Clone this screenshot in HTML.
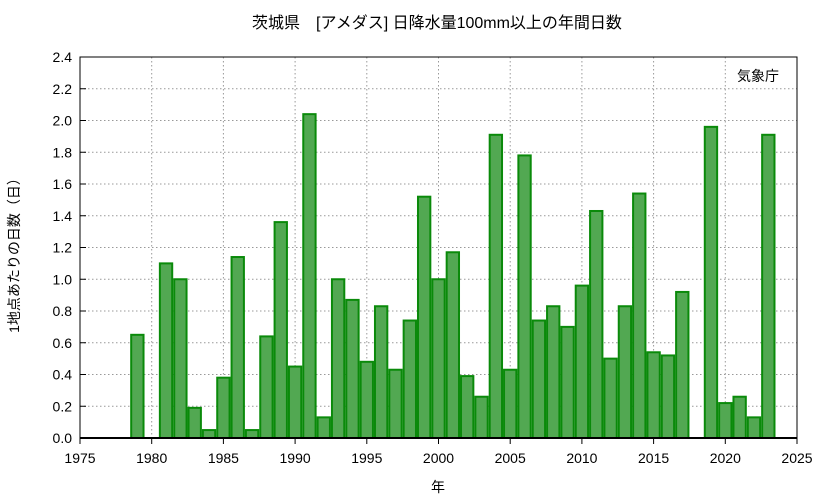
<!DOCTYPE html>
<html><head><meta charset="utf-8"><style>
body{margin:0;background:#fff;}
svg text{font-family:"Liberation Sans","Noto Sans CJK JP",sans-serif;}
</style></head><body>
<svg id="chart" width="833" height="498">
<text x="437" y="28" font-size="16" text-anchor="middle" fill="#000">茨城県　[アメダス] 日降水量100mm以上の年間日数</text>
<g id="grid"></g>
<g id="bars"></g>
<g id="axes"></g>
<text x="758" y="81" font-size="14" text-anchor="middle">気象庁</text>
<text x="438" y="492" font-size="14" text-anchor="middle">年</text>
<text transform="translate(19,252) rotate(-90)" font-size="14" text-anchor="middle">1地点あたりの日数（日）</text>
</svg>
<script>
const years=[1979,1981,1982,1983,1984,1985,1986,1987,1988,1989,1990,1991,1992,1993,1994,1995,1996,1997,1998,1999,2000,2001,2002,2003,2004,2005,2006,2007,2008,2009,2010,2011,2012,2013,2014,2015,2016,2017,2019,2020,2021,2022,2023];
const values=[0.65,1.10,1.00,0.19,0.05,0.38,1.14,0.05,0.64,1.36,0.45,2.04,0.13,1.00,0.87,0.48,0.83,0.43,0.74,1.52,1.00,1.17,0.39,0.26,1.91,0.43,1.78,0.74,0.83,0.70,0.96,1.43,0.50,0.83,1.54,0.54,0.52,0.92,1.96,0.22,0.26,0.13,1.91];
const xTicks=[1975,1980,1985,1990,1995,2000,2005,2010,2015,2020,2025];
const yTicks=["0.0","0.2","0.4","0.6","0.8","1.0","1.2","1.4","1.6","1.8","2.0","2.2","2.4"];
const L=80,R=797,T=57,B=438;
const X=v=>L+(v-1975)/(2025-1975)*(R-L);
const Y=v=>B-v/2.4*(B-T);
const NS="http://www.w3.org/2000/svg";
function mk(t,p,a){const e=document.createElementNS(NS,t);for(const k in a)e.setAttribute(k,a[k]);p.appendChild(e);return e;}
const g=document.getElementById('grid'),bg=document.getElementById('bars'),ax=document.getElementById('axes');
xTicks.forEach(t=>{const x=X(t);
 if(t>1975&&t<2025){const l=mk('line',g,{x1:x,x2:x,y1:T,y2:B,stroke:'#999','stroke-dasharray':'1.5,2.5'});
 }
 const tk=mk('line',ax,{x1:x,x2:x,y1:B,y2:B+6,stroke:'#000'});
 
 const tx=mk('text',ax,{x:x,y:B+25,'font-size':14,'text-anchor':'middle'});tx.textContent=t;
 });
yTicks.forEach(s=>{const y=Y(parseFloat(s));
 if(parseFloat(s)>0&&parseFloat(s)<2.4){const l=mk('line',g,{x1:L,x2:R,y1:y,y2:y,stroke:'#999','stroke-dasharray':'1.5,2.5'});
 }
 const tk=mk('line',ax,{x1:L,x2:L+6,y1:y,y2:y,stroke:'#000'});
 
 const tx=mk('text',ax,{x:L-8,y:y+5,'font-size':14,'text-anchor':'end'});tx.textContent=s;
 });
years.forEach((yr,i)=>{const x0=X(yr-0.5),x1=X(yr+0.5),y=Y(values[i]);
 const r=mk('rect',bg,{x:x0+1,y:y,width:x1-x0-2,height:B-y,fill:'#52a852',stroke:'#0a8a0a','stroke-width':2});
 });
const fr=mk('rect',ax,{x:L,y:T,width:R-L,height:B-T,fill:'none',stroke:'#000','stroke-width':1});

const bl=mk('line',ax,{x1:L,x2:R,y1:B,y2:B,stroke:'#000','stroke-width':2});

</script>
</body></html>
